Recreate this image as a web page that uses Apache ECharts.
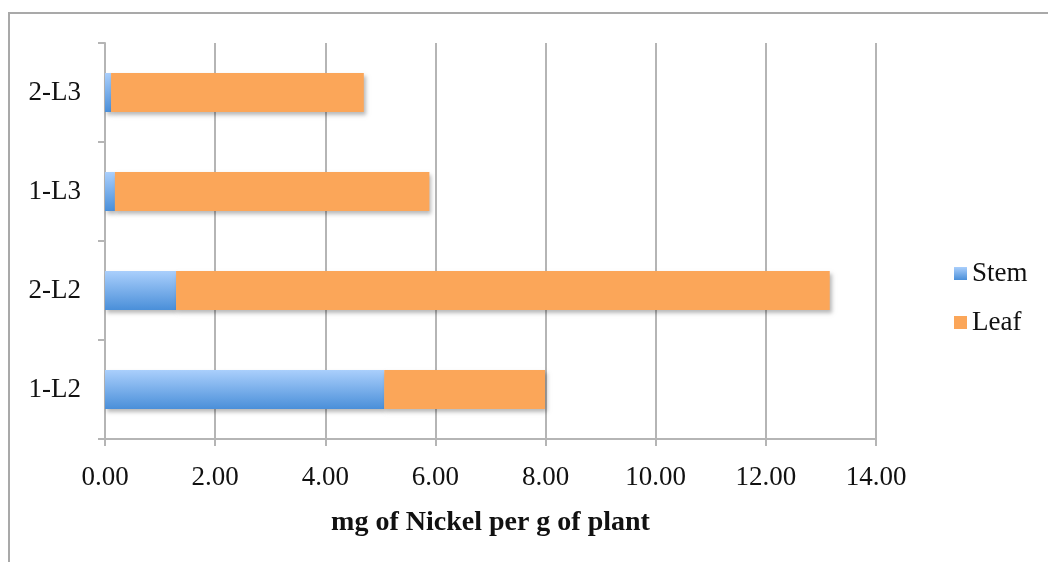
<!DOCTYPE html>
<html>
<head>
<meta charset="utf-8">
<script src="https://cdn.jsdelivr.net/npm/echarts@6/dist/echarts.min.js"></script>
<style>
  html, body { margin: 0; padding: 0; background: #fff; }
  #chart { width: 1048px; height: 562px; }
</style>
</head>
<body>
<div id="chart"></div>
<script>
// Nickel content per gram of plant, split into stem and leaf
const categories = ['1-L2', '2-L2', '1-L3', '2-L3'];
const stemValues = [5.07, 1.29, 0.18, 0.11];
const leafValues = [2.92, 11.87, 5.71, 4.59];
const xTicks = { min: 0, max: 14, interval: 2 };
const axisTitle = 'mg of Nickel per g of plant';

const serif = '"Liberation Serif", "DejaVu Serif", serif';
const gridColor = '#b5b5b5';

const chart = echarts.init(document.getElementById('chart'));

const barShadow = {
  shadowColor: 'rgba(0,0,0,0.28)',
  shadowBlur: 4,
  shadowOffsetX: 2,
  shadowOffsetY: 3
};

chart.setOption({
  animation: false,
  backgroundColor: '#fff',
  graphic: [{
    type: 'rect',
    shape: { x: 9, y: 13, width: 1100, height: 600 },
    style: { fill: 'none', stroke: '#a9a9a9', lineWidth: 2 },
    silent: true
  }],
  grid: { left: 105, right: 172, top: 43, bottom: 123, containLabel: false },
  legend: {
    orient: 'vertical',
    left: 949,
    top: 255,
    icon: 'rect',
    itemWidth: 13,
    itemHeight: 13,
    itemGap: 22,
    textStyle: { fontFamily: serif, fontSize: 27, color: '#111' },
    data: ['Stem', 'Leaf']
  },
  xAxis: {
    type: 'value',
    min: xTicks.min,
    max: xTicks.max,
    interval: xTicks.interval,
    name: axisTitle,
    nameLocation: 'middle',
    nameGap: 70,
    nameTextStyle: { fontFamily: serif, fontSize: 28, fontWeight: 'bold', color: '#111' },
    axisLine: { show: true, lineStyle: { color: gridColor, width: 2 } },
    axisTick: { show: true, length: 7, lineStyle: { color: gridColor, width: 2 } },
    axisLabel: {
      fontFamily: serif, fontSize: 27, color: '#111', margin: 25,
      formatter: v => v.toFixed(2)
    },
    splitLine: { show: true, lineStyle: { color: gridColor, width: 2 } }
  },
  yAxis: {
    type: 'category',
    data: categories,
    axisLine: { show: true, lineStyle: { color: gridColor, width: 2 } },
    axisTick: { show: true, length: 7, lineStyle: { color: gridColor, width: 2 } },
    axisLabel: { fontFamily: serif, fontSize: 27, color: '#111', margin: 24 },
    splitLine: { show: false }
  },
  series: [
    {
      name: 'Stem',
      type: 'bar',
      stack: 'total',
      barWidth: 39,
      data: stemValues,
      itemStyle: Object.assign({
        color: new echarts.graphic.LinearGradient(0, 0, 0, 1, [
          { offset: 0, color: '#aacffc' },
          { offset: 1, color: '#4a8fd9' }
        ])
      }, barShadow)
    },
    {
      name: 'Leaf',
      type: 'bar',
      stack: 'total',
      barWidth: 39,
      data: leafValues,
      itemStyle: Object.assign({ color: '#fba659' }, barShadow)
    }
  ]
});
</script>
</body>
</html>
